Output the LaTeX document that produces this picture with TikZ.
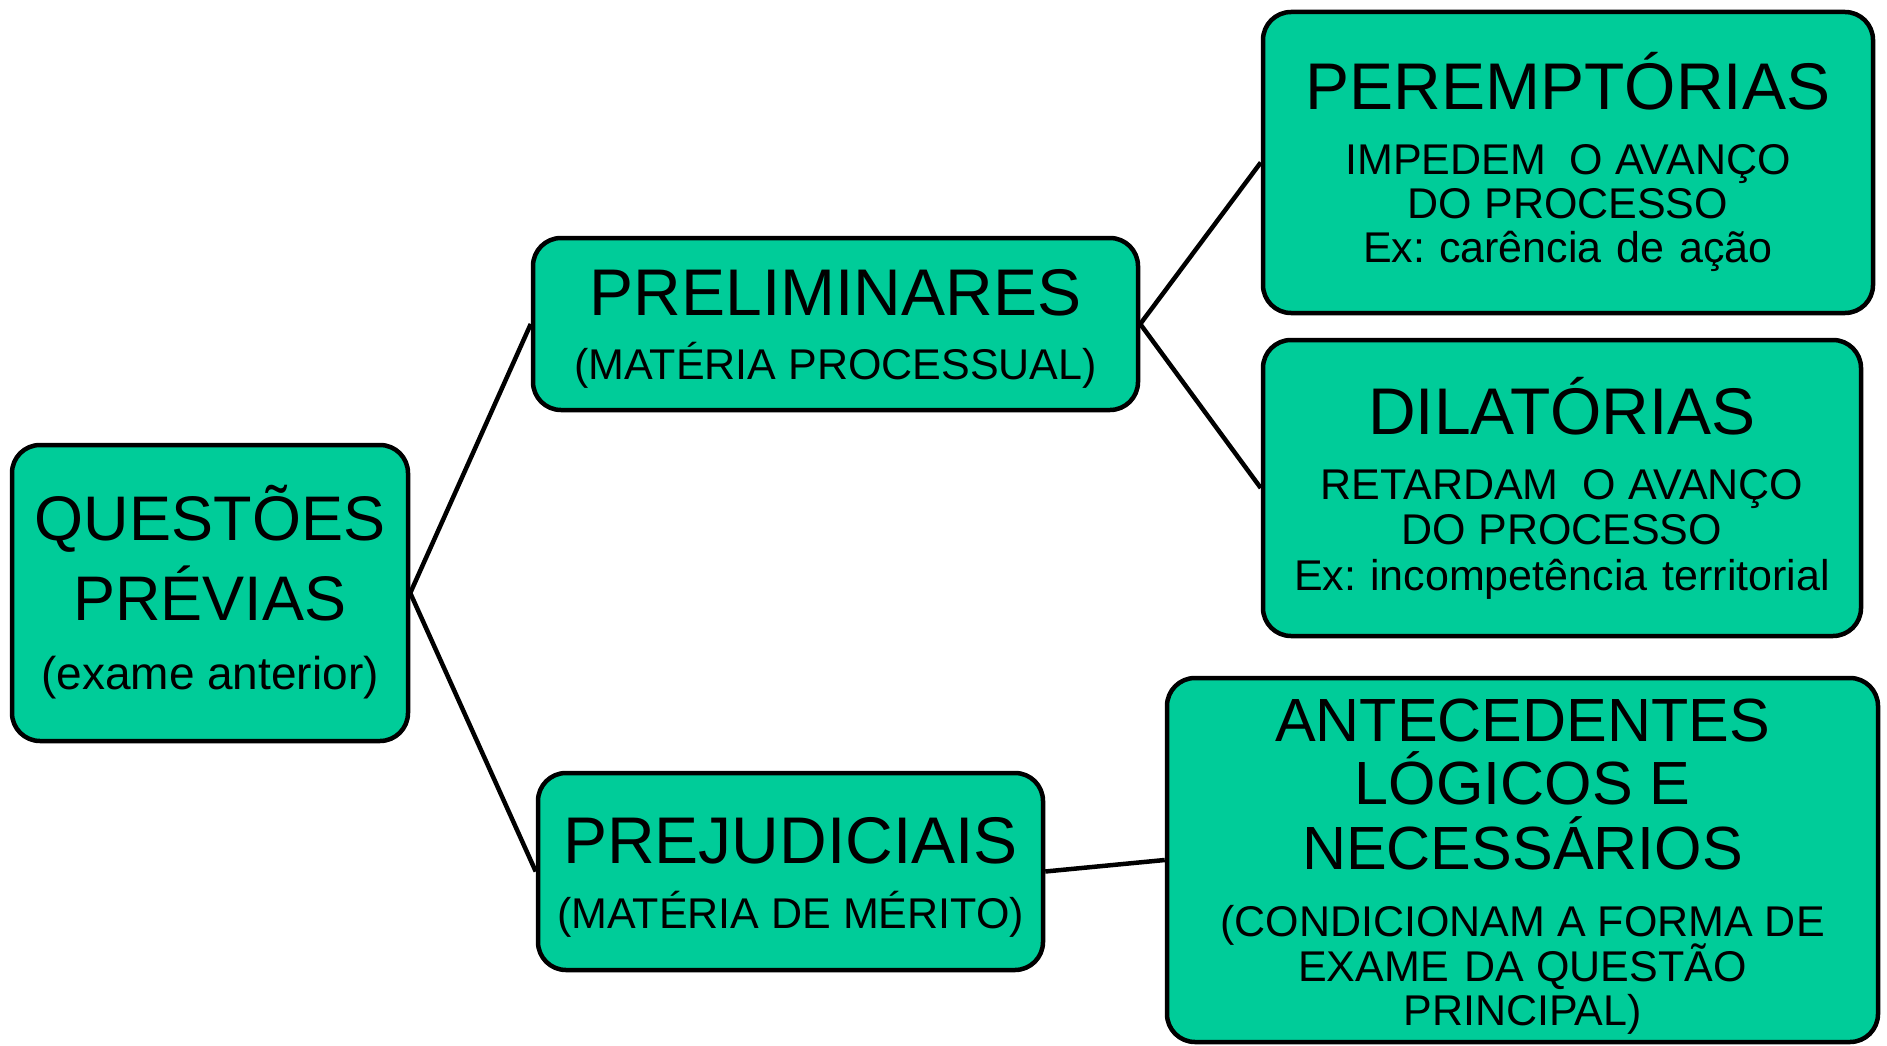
\documentclass[tikz,border=0pt]{standalone}
\usepackage{fontspec}
\setmainfont{Liberation Sans}
\definecolor{boxgreen}{RGB}{0,204,153}
\begin{document}
\begin{tikzpicture}[x=1pt,y=-1pt,
  box/.style={draw=black, line width=4.5pt, fill=boxgreen, rounded corners=28pt, inner sep=0pt},
  conn/.style={draw=black, line width=4.5pt},
  txt/.style={anchor=base, inner sep=0pt, text=black},
  ttlA/.style={txt, font=\fontsize{66}{66}\selectfont},
  ttlQ/.style={txt, font=\fontsize{63}{63}\selectfont},
  ttlB/.style={txt, font=\fontsize{61}{61}\selectfont},
  subA/.style={txt, font=\fontsize{43}{43}\selectfont},
  subQ/.style={txt, font=\fontsize{46}{46}\selectfont}]
\useasboundingbox (0,0) rectangle (1887,1046);
\fill[white] (0,0) rectangle (1887,1046);
% boxes
\node[box, minimum width=396pt, minimum height=296pt] (q) at (210,593) {};
\node[box, minimum width=605pt, minimum height=172pt] (prel) at (835.5,324) {};
\node[box, minimum width=610pt, minimum height=301pt] (perem) at (1568,162.5) {};
\node[box, minimum width=598pt, minimum height=296pt] (dila) at (1562,488) {};
\node[box, minimum width=505pt, minimum height=197pt] (prej) at (790.5,871.5) {};
\node[box, minimum width=711pt, minimum height=364pt] (ante) at (1522.5,860) {};
% connectors
\draw[conn] (q.east) -- (prel.west);
\draw[conn] (q.east) -- (prej.west);
\draw[conn] (prel.east) -- (perem.west);
\draw[conn] (prel.east) -- (dila.west);
\draw[conn] (prej.east) -- (ante.west);
% texts
\node[ttlQ] (q1) at (210,540) {QUESTÕES};
\node[ttlQ] (q2) at (210,620) {PRÉVIAS};
\node[subQ] (q3) at (210,689) {(exame anterior)};
\node[ttlA] (p1) at (835.5,315) {PRELIMINARES};
\node[subA] (p2) at (835.5,379) {(MATÉRIA PROCESSUAL)};
\node[ttlA] (e1) at (1568,110) {PEREMPTÓRIAS};
\node[subA] (e2) at (1568,174) {IMPEDEM\ \ O AVANÇO};
\node[subA] (e3) at (1568,218) {DO PROCESSO};
\node[subA] (e4) at (1568,262) {Ex:\hspace{14pt}carência\hspace{15pt}de\hspace{15pt}ação};
\node[ttlA] (d1) at (1562,434) {DILATÓRIAS};
\node[subA] (d2) at (1562,499) {RETARDAM\ \ O AVANÇO};
\node[subA] (d3) at (1562,544) {DO PROCESSO};
\node[subA] (d4) at (1562,590) {Ex:\hspace{14pt}incompetência\hspace{15pt}territorial};
\node[ttlA] (j1) at (790.5,863) {PREJUDICIAIS};
\node[subA] (j2) at (790.5,928) {(MATÉRIA DE MÉRITO)};
\node[ttlB] (a1) at (1522.5,741) {ANTECEDENTES};
\node[ttlB] (a2) at (1522.5,804) {LÓGICOS E};
\node[ttlB] (a3) at (1522.5,869) {NECESSÁRIOS};
\node[subA] (a4) at (1522.5,936) {(CONDICIONAM A FORMA DE};
\node[subA] (a5) at (1522.5,981) {EXAME\hspace{16pt}DA QUESTÃO};
\node[subA] (a6) at (1522.5,1025) {PRINCIPAL)};
\end{tikzpicture}
\end{document}
